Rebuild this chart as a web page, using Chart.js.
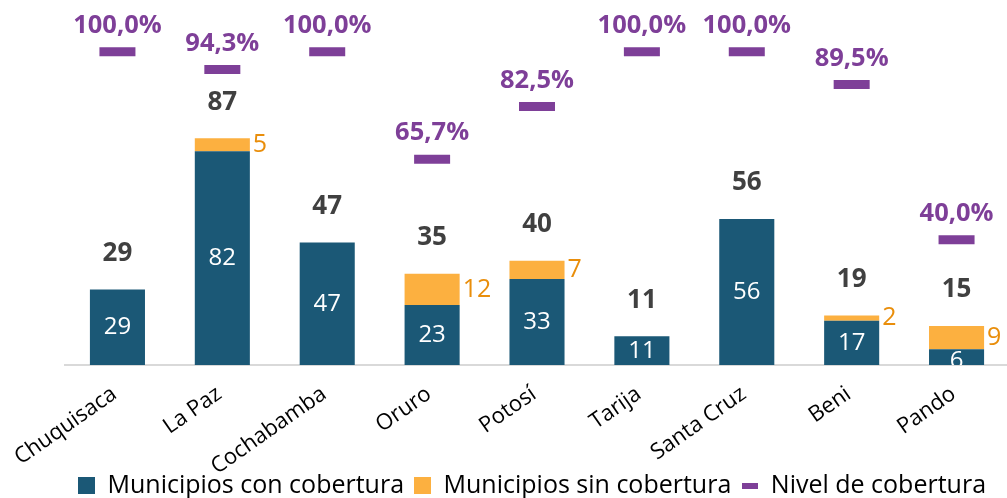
<!DOCTYPE html>
<html>
<head>
<meta charset="utf-8">
<script src="https://cdn.jsdelivr.net/npm/chart.js@4.4.1/dist/chart.umd.min.js"></script>
<style>
  html, body { margin: 0; padding: 0; overflow: hidden; background: #fff; }
</style>
</head>
<body>
<canvas id="grafico" width="1040" height="528"></canvas>
<script>
// DATOS DEL GRAFICO
const departamentos = ["Chuquisaca", "La Paz", "Cochabamba", "Oruro", "Potosí", "Tarija", "Santa Cruz", "Beni", "Pando"];
const conCobertura = [29, 82, 47, 23, 33, 11, 56, 17, 6];
const sinCobertura = [0, 5, 0, 12, 7, 0, 0, 2, 9];
const nivelCobertura = [1.0, 0.943, 1.0, 0.657, 0.825, 1.0, 1.0, 0.895, 0.4];

const AZUL = "#1b5876";
const NARANJA = "#fcb040";
const NARANJA_TEXTO = "#e98e0b";
const MORADO = "#7e3f98";
const FUENTE = '"Open Sans", sans-serif';

// MARCAS PARA LA LEYENDA
const marca = (w, h, color) => {
  const c = document.createElement("canvas");
  c.width = w;
  c.height = h;
  const x = c.getContext("2d");
  x.fillStyle = color;
  x.fillRect(0, 0, w, h);
  return c;
};

// PLUGIN PARA LAS ETIQUETAS DE DATOS
const etiquetas = {
  id: "etiquetas",
  afterLayout(chart) {
    // mover la leyenda: un poco a la izquierda y encima del borde inferior del eje
    chart.legend.left -= 5;
    chart.legend.right -= 5;
    chart.legend.top -= 20;
    chart.legend.bottom -= 20;
  },
  afterDatasetsDraw(chart) {
    const ctx = chart.ctx;
    const area = chart.chartArea;
    const barrasCon = chart.getDatasetMeta(0).data;
    const barrasSin = chart.getDatasetMeta(1).data;
    const puntos = chart.getDatasetMeta(2).data;

    ctx.save();
    ctx.textBaseline = "middle";

    // valores dentro de las barras azules
    ctx.save();
    ctx.beginPath();
    ctx.rect(area.left, area.top, area.right - area.left, area.bottom - area.top);
    ctx.clip();
    ctx.textAlign = "center";
    ctx.fillStyle = "#ffffff";
    ctx.font = "24px " + FUENTE;
    barrasCon.forEach((b, i) => {
      const h = b.base - b.y;
      ctx.fillText(conCobertura[i], b.x, (b.y + b.base) / 2 + (h < 25 ? 4 : 0));
    });
    ctx.restore();

    // valores de municipios sin cobertura
    ctx.textAlign = "left";
    ctx.fillStyle = NARANJA_TEXTO;
    ctx.font = "25px " + FUENTE;
    barrasSin.forEach((b, i) => {
      if (!sinCobertura[i]) return;
      ctx.fillText(sinCobertura[i], b.x + b.width / 2 + 3, (b.y + b.base) / 2);
    });

    // totales
    ctx.textAlign = "center";
    ctx.fillStyle = "#404040";
    ctx.font = "bold 26px " + FUENTE;
    barrasSin.forEach((b, i) => {
      ctx.fillText(conCobertura[i] + sinCobertura[i], b.x, b.y - 36);
    });

    // nivel de cobertura
    ctx.fillStyle = MORADO;
    ctx.font = "bold 25.5px " + FUENTE;
    puntos.forEach((p, i) => {
      ctx.fillText((nivelCobertura[i] * 100).toFixed(1).replace(".", ",") + "%", p.x, p.y - 26);
    });
    ctx.restore();
  },
};

new Chart(document.getElementById("grafico"), {
  type: "bar",
  data: {
    labels: departamentos,
    datasets: [
      {
        label: "Municipios con cobertura",
        data: conCobertura,
        backgroundColor: AZUL,
        borderWidth: 0,
        yAxisID: "y",
      },
      {
        label: "Municipios sin cobertura",
        data: sinCobertura,
        backgroundColor: NARANJA,
        borderWidth: 0,
        yAxisID: "y",
      },
      {
        type: "line",
        label: "Nivel de cobertura",
        data: nivelCobertura,
        showLine: false,
        pointStyle: "line",
        pointRadius: 18,
        borderWidth: 9,
        borderColor: MORADO,
        backgroundColor: MORADO,
        yAxisID: "y2",
      },
    ],
  },
  options: {
    responsive: false,
    animation: false,
    events: [],
    layout: { autoPadding: false, padding: { left: 65, right: 31, top: 0, bottom: 0 } },
    datasets: {
      bar: { categoryPercentage: 1, barPercentage: 0.525 },
    },
    scales: {
      x: {
        stacked: true,
        grid: { display: false },
        border: { display: true, color: "#d9d9d9", width: 2 },
        ticks: {
          color: "#000",
          font: { family: FUENTE, size: 22 },
          minRotation: 35,
          maxRotation: 35,
          autoSkip: false,
          padding: 8,
          labelOffset: -3,
        },
        afterFit: (scale) => {
          scale.height = 118;
        },
      },
      y: { display: false, stacked: true, min: 0, max: 140 },
      y2: { display: false, position: "right", min: 0, max: 1.165 },
    },
    plugins: {
      tooltip: { enabled: false },
      legend: {
        position: "bottom",
        labels: {
          color: "#000",
          font: { family: FUENTE, size: 25 },
          usePointStyle: true,
          boxWidth: 17,
          boxHeight: 17,
          padding: 10,
          generateLabels: (chart) => {
            const items = Chart.defaults.plugins.legend.labels.generateLabels(chart);
            items[0].pointStyle = marca(17, 17, AZUL);
            items[1].pointStyle = marca(17, 17, NARANJA);
            items[2].pointStyle = marca(16, 6, MORADO);
            return items;
          },
        },
      },
    },
  },
  plugins: [etiquetas],
});
</script>
</body>
</html>
